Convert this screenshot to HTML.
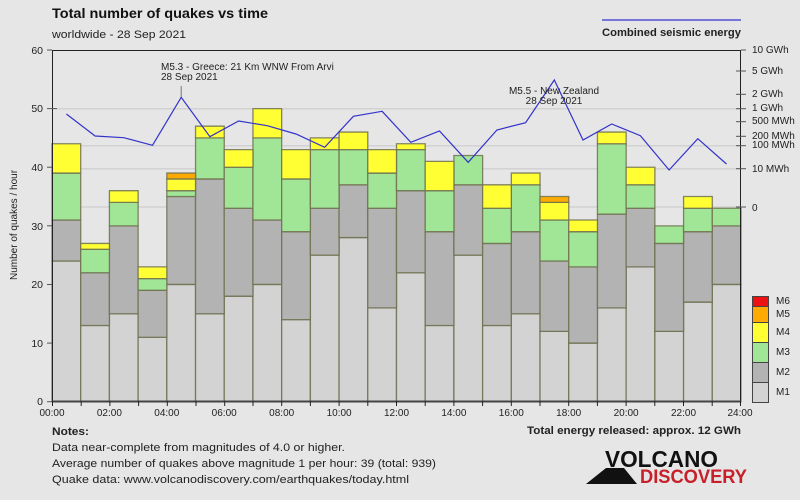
<!DOCTYPE html>
<html><head><meta charset="utf-8"><style>
html,body{margin:0;padding:0;background:#e6e6e6;}
svg{display:block;font-family:"Liberation Sans",sans-serif;}
</style></head><body>
<svg width="800" height="500" viewBox="0 0 800 500" xmlns="http://www.w3.org/2000/svg">
<rect width="800" height="500" fill="#e6e6e6"/>
<g stroke="#d2d2d2" stroke-width="1.5">
<line x1="52" y1="108.7" x2="741" y2="108.7"/>
<line x1="52" y1="145.7" x2="741" y2="145.7"/>
<line x1="52" y1="168.7" x2="741" y2="168.7"/>
<line x1="52" y1="207" x2="741" y2="207"/>
</g>
<g transform="translate(52,401.7) scale(28.708,-5.862)" stroke="#707050" stroke-opacity="0.85" stroke-width="1.3">
<g fill="#d3d3d3">
<rect vector-effect="non-scaling-stroke" x="0" y="0" width="1" height="24"/>
<rect vector-effect="non-scaling-stroke" x="1" y="0" width="1" height="13"/>
<rect vector-effect="non-scaling-stroke" x="2" y="0" width="1" height="15"/>
<rect vector-effect="non-scaling-stroke" x="3" y="0" width="1" height="11"/>
<rect vector-effect="non-scaling-stroke" x="4" y="0" width="1" height="20"/>
<rect vector-effect="non-scaling-stroke" x="5" y="0" width="1" height="15"/>
<rect vector-effect="non-scaling-stroke" x="6" y="0" width="1" height="18"/>
<rect vector-effect="non-scaling-stroke" x="7" y="0" width="1" height="20"/>
<rect vector-effect="non-scaling-stroke" x="8" y="0" width="1" height="14"/>
<rect vector-effect="non-scaling-stroke" x="9" y="0" width="1" height="25"/>
<rect vector-effect="non-scaling-stroke" x="10" y="0" width="1" height="28"/>
<rect vector-effect="non-scaling-stroke" x="11" y="0" width="1" height="16"/>
<rect vector-effect="non-scaling-stroke" x="12" y="0" width="1" height="22"/>
<rect vector-effect="non-scaling-stroke" x="13" y="0" width="1" height="13"/>
<rect vector-effect="non-scaling-stroke" x="14" y="0" width="1" height="25"/>
<rect vector-effect="non-scaling-stroke" x="15" y="0" width="1" height="13"/>
<rect vector-effect="non-scaling-stroke" x="16" y="0" width="1" height="15"/>
<rect vector-effect="non-scaling-stroke" x="17" y="0" width="1" height="12"/>
<rect vector-effect="non-scaling-stroke" x="18" y="0" width="1" height="10"/>
<rect vector-effect="non-scaling-stroke" x="19" y="0" width="1" height="16"/>
<rect vector-effect="non-scaling-stroke" x="20" y="0" width="1" height="23"/>
<rect vector-effect="non-scaling-stroke" x="21" y="0" width="1" height="12"/>
<rect vector-effect="non-scaling-stroke" x="22" y="0" width="1" height="17"/>
<rect vector-effect="non-scaling-stroke" x="23" y="0" width="1" height="20"/>
</g>
<g fill="#b3b3b3">
<rect vector-effect="non-scaling-stroke" x="0" y="24" width="1" height="7"/>
<rect vector-effect="non-scaling-stroke" x="1" y="13" width="1" height="9"/>
<rect vector-effect="non-scaling-stroke" x="2" y="15" width="1" height="15"/>
<rect vector-effect="non-scaling-stroke" x="3" y="11" width="1" height="8"/>
<rect vector-effect="non-scaling-stroke" x="4" y="20" width="1" height="15"/>
<rect vector-effect="non-scaling-stroke" x="5" y="15" width="1" height="23"/>
<rect vector-effect="non-scaling-stroke" x="6" y="18" width="1" height="15"/>
<rect vector-effect="non-scaling-stroke" x="7" y="20" width="1" height="11"/>
<rect vector-effect="non-scaling-stroke" x="8" y="14" width="1" height="15"/>
<rect vector-effect="non-scaling-stroke" x="9" y="25" width="1" height="8"/>
<rect vector-effect="non-scaling-stroke" x="10" y="28" width="1" height="9"/>
<rect vector-effect="non-scaling-stroke" x="11" y="16" width="1" height="17"/>
<rect vector-effect="non-scaling-stroke" x="12" y="22" width="1" height="14"/>
<rect vector-effect="non-scaling-stroke" x="13" y="13" width="1" height="16"/>
<rect vector-effect="non-scaling-stroke" x="14" y="25" width="1" height="12"/>
<rect vector-effect="non-scaling-stroke" x="15" y="13" width="1" height="14"/>
<rect vector-effect="non-scaling-stroke" x="16" y="15" width="1" height="14"/>
<rect vector-effect="non-scaling-stroke" x="17" y="12" width="1" height="12"/>
<rect vector-effect="non-scaling-stroke" x="18" y="10" width="1" height="13"/>
<rect vector-effect="non-scaling-stroke" x="19" y="16" width="1" height="16"/>
<rect vector-effect="non-scaling-stroke" x="20" y="23" width="1" height="10"/>
<rect vector-effect="non-scaling-stroke" x="21" y="12" width="1" height="15"/>
<rect vector-effect="non-scaling-stroke" x="22" y="17" width="1" height="12"/>
<rect vector-effect="non-scaling-stroke" x="23" y="20" width="1" height="10"/>
</g>
<g fill="#a0e696">
<rect vector-effect="non-scaling-stroke" x="0" y="31" width="1" height="8"/>
<rect vector-effect="non-scaling-stroke" x="1" y="22" width="1" height="4"/>
<rect vector-effect="non-scaling-stroke" x="2" y="30" width="1" height="4"/>
<rect vector-effect="non-scaling-stroke" x="3" y="19" width="1" height="2"/>
<rect vector-effect="non-scaling-stroke" x="4" y="35" width="1" height="1"/>
<rect vector-effect="non-scaling-stroke" x="5" y="38" width="1" height="7"/>
<rect vector-effect="non-scaling-stroke" x="6" y="33" width="1" height="7"/>
<rect vector-effect="non-scaling-stroke" x="7" y="31" width="1" height="14"/>
<rect vector-effect="non-scaling-stroke" x="8" y="29" width="1" height="9"/>
<rect vector-effect="non-scaling-stroke" x="9" y="33" width="1" height="10"/>
<rect vector-effect="non-scaling-stroke" x="10" y="37" width="1" height="6"/>
<rect vector-effect="non-scaling-stroke" x="11" y="33" width="1" height="6"/>
<rect vector-effect="non-scaling-stroke" x="12" y="36" width="1" height="7"/>
<rect vector-effect="non-scaling-stroke" x="13" y="29" width="1" height="7"/>
<rect vector-effect="non-scaling-stroke" x="14" y="37" width="1" height="5"/>
<rect vector-effect="non-scaling-stroke" x="15" y="27" width="1" height="6"/>
<rect vector-effect="non-scaling-stroke" x="16" y="29" width="1" height="8"/>
<rect vector-effect="non-scaling-stroke" x="17" y="24" width="1" height="7"/>
<rect vector-effect="non-scaling-stroke" x="18" y="23" width="1" height="6"/>
<rect vector-effect="non-scaling-stroke" x="19" y="32" width="1" height="12"/>
<rect vector-effect="non-scaling-stroke" x="20" y="33" width="1" height="4"/>
<rect vector-effect="non-scaling-stroke" x="21" y="27" width="1" height="3"/>
<rect vector-effect="non-scaling-stroke" x="22" y="29" width="1" height="4"/>
<rect vector-effect="non-scaling-stroke" x="23" y="30" width="1" height="3"/>
</g>
<g fill="#ffff33">
<rect vector-effect="non-scaling-stroke" x="0" y="39" width="1" height="5"/>
<rect vector-effect="non-scaling-stroke" x="1" y="26" width="1" height="1"/>
<rect vector-effect="non-scaling-stroke" x="2" y="34" width="1" height="2"/>
<rect vector-effect="non-scaling-stroke" x="3" y="21" width="1" height="2"/>
<rect vector-effect="non-scaling-stroke" x="4" y="36" width="1" height="2"/>
<rect vector-effect="non-scaling-stroke" x="5" y="45" width="1" height="2"/>
<rect vector-effect="non-scaling-stroke" x="6" y="40" width="1" height="3"/>
<rect vector-effect="non-scaling-stroke" x="7" y="45" width="1" height="5"/>
<rect vector-effect="non-scaling-stroke" x="8" y="38" width="1" height="5"/>
<rect vector-effect="non-scaling-stroke" x="9" y="43" width="1" height="2"/>
<rect vector-effect="non-scaling-stroke" x="10" y="43" width="1" height="3"/>
<rect vector-effect="non-scaling-stroke" x="11" y="39" width="1" height="4"/>
<rect vector-effect="non-scaling-stroke" x="12" y="43" width="1" height="1"/>
<rect vector-effect="non-scaling-stroke" x="13" y="36" width="1" height="5"/>
<rect vector-effect="non-scaling-stroke" x="15" y="33" width="1" height="4"/>
<rect vector-effect="non-scaling-stroke" x="16" y="37" width="1" height="2"/>
<rect vector-effect="non-scaling-stroke" x="17" y="31" width="1" height="3"/>
<rect vector-effect="non-scaling-stroke" x="18" y="29" width="1" height="2"/>
<rect vector-effect="non-scaling-stroke" x="19" y="44" width="1" height="2"/>
<rect vector-effect="non-scaling-stroke" x="20" y="37" width="1" height="3"/>
<rect vector-effect="non-scaling-stroke" x="22" y="33" width="1" height="2"/>
</g>
<g fill="#ffaa00">
<rect vector-effect="non-scaling-stroke" x="4" y="38" width="1" height="1"/>
<rect vector-effect="non-scaling-stroke" x="17" y="34" width="1" height="1"/>
</g>
</g>
<g stroke="#222" stroke-width="1">
<line x1="52.5" y1="50" x2="52.5" y2="406"/>
<line x1="740.5" y1="50" x2="740.5" y2="406"/>
<line x1="52" y1="401.5" x2="741" y2="401.5" stroke="#444" stroke-width="2"/>
<line x1="52" y1="50.5" x2="741" y2="50.5"/>
</g>
<g stroke="#555" stroke-width="1">
<line x1="47" y1="401.7" x2="52" y2="401.7"/><line x1="47" y1="343.1" x2="52" y2="343.1"/>
<line x1="47" y1="284.5" x2="52" y2="284.5"/><line x1="47" y1="225.8" x2="52" y2="225.8"/>
<line x1="47" y1="167.2" x2="52" y2="167.2"/><line x1="47" y1="108.6" x2="57" y2="108.6"/>
<line x1="47" y1="50" x2="52" y2="50"/>
<line x1="741" y1="50" x2="746" y2="50"/><line x1="736" y1="71" x2="746" y2="71"/>
<line x1="736" y1="94.3" x2="746" y2="94.3"/><line x1="736" y1="108.7" x2="746" y2="108.7"/>
<line x1="736" y1="121.7" x2="746" y2="121.7"/><line x1="736" y1="136.3" x2="746" y2="136.3"/>
<line x1="736" y1="145.7" x2="746" y2="145.7"/><line x1="736" y1="168.7" x2="746" y2="168.7"/>
<line x1="736" y1="207" x2="746" y2="207"/>
</g>
<g stroke="#222" stroke-width="1">
<line x1="52.5" y1="401" x2="52.5" y2="406"/><line x1="81.2" y1="401" x2="81.2" y2="406"/><line x1="109.9" y1="401" x2="109.9" y2="406"/><line x1="138.6" y1="401" x2="138.6" y2="406"/><line x1="167.3" y1="401" x2="167.3" y2="406"/><line x1="196" y1="401" x2="196" y2="406"/><line x1="224.7" y1="401" x2="224.7" y2="406"/><line x1="253" y1="401" x2="253" y2="406"/><line x1="281.7" y1="401" x2="281.7" y2="406"/><line x1="310.4" y1="401" x2="310.4" y2="406"/><line x1="339.1" y1="401" x2="339.1" y2="406"/><line x1="367.8" y1="401" x2="367.8" y2="406"/><line x1="396.5" y1="401" x2="396.5" y2="406"/><line x1="425.2" y1="401" x2="425.2" y2="406"/><line x1="453.9" y1="401" x2="453.9" y2="406"/><line x1="482.6" y1="401" x2="482.6" y2="406"/><line x1="511.3" y1="401" x2="511.3" y2="406"/><line x1="540" y1="401" x2="540" y2="406"/><line x1="568.7" y1="401" x2="568.7" y2="406"/><line x1="597.4" y1="401" x2="597.4" y2="406"/><line x1="626.1" y1="401" x2="626.1" y2="406"/><line x1="654.8" y1="401" x2="654.8" y2="406"/><line x1="683.5" y1="401" x2="683.5" y2="406"/><line x1="712.2" y1="401" x2="712.2" y2="406"/><line x1="740.5" y1="401" x2="740.5" y2="406"/>
</g>
<polyline fill="none" stroke="#3333cc" stroke-width="1.2" points="66.4,114 95.1,136 123.8,137.7 152.5,145.3 181.2,97.3 209.9,136.7 238.6,121 267.3,125.7 296,134 324.7,147.3 353.4,116.3 382.1,111.3 410.8,142.3 439.5,131 468.2,162.3 496.9,130 525.6,122.7 554.3,80 583,140 611.7,124 640.4,135.7 669.1,170 697.8,138.7 726.5,164"/>
<line x1="181.2" y1="86" x2="181.2" y2="97" stroke="#777"/>
<g font-size="10" fill="#222">
<text x="161" y="70">M5.3 - Greece: 21 Km WNW From Arvi</text>
<text x="161" y="80">28 Sep 2021</text>
<text x="554" y="94" text-anchor="middle">M5.5 - New Zealand</text>
<text x="554" y="104" text-anchor="middle">28 Sep 2021</text>
</g>
<g font-size="10.5" fill="#222" text-anchor="end">
<text x="43" y="405">0</text><text x="43" y="347">10</text><text x="43" y="288">20</text>
<text x="43" y="230">30</text><text x="43" y="171">40</text><text x="43" y="112">50</text><text x="43" y="54">60</text>
</g>
<text transform="translate(17,225) rotate(-90)" font-size="10" fill="#222" text-anchor="middle">Number of quakes / hour</text>
<g font-size="10" fill="#222">
<text x="752" y="53">10 GWh</text><text x="752" y="74">5 GWh</text><text x="752" y="97">2 GWh</text>
<text x="752" y="111">1 GWh</text><text x="752" y="124">500 MWh</text><text x="752" y="139">200 MWh</text>
<text x="752" y="148">100 MWh</text><text x="752" y="172">10 MWh</text><text x="752" y="211">0</text>
</g>
<g font-size="10" fill="#222" text-anchor="middle">
<text x="52" y="416">00:00</text><text x="109.4" y="416">02:00</text><text x="166.8" y="416">04:00</text>
<text x="224.2" y="416">06:00</text><text x="281.7" y="416">08:00</text><text x="339.1" y="416">10:00</text>
<text x="396.5" y="416">12:00</text><text x="453.9" y="416">14:00</text><text x="511.3" y="416">16:00</text>
<text x="568.7" y="416">18:00</text><text x="626.1" y="416">20:00</text><text x="683.5" y="416">22:00</text>
<text x="740" y="416">24:00</text>
</g>
<g stroke="#444" stroke-width="1">
<rect x="752.5" y="296.5" width="16" height="10" fill="#ee1111"/>
<rect x="752.5" y="306.5" width="16" height="16" fill="#ffaa00"/>
<rect x="752.5" y="322.5" width="16" height="20" fill="#ffff33"/>
<rect x="752.5" y="342.5" width="16" height="20" fill="#a0e696"/>
<rect x="752.5" y="362.5" width="16" height="20" fill="#b3b3b3"/>
<rect x="752.5" y="382.5" width="16" height="20" fill="#d3d3d3"/>
</g>
<g font-size="10" fill="#222">
<text x="776" y="304">M6</text><text x="776" y="317">M5</text><text x="776" y="335">M4</text>
<text x="776" y="355">M3</text><text x="776" y="375">M2</text><text x="776" y="395">M1</text>
</g>
<text x="52" y="18" font-size="14" font-weight="bold" fill="#111" textLength="216" lengthAdjust="spacingAndGlyphs">Total number of quakes vs time</text>
<text x="52" y="38" font-size="11" fill="#222" textLength="134" lengthAdjust="spacingAndGlyphs">worldwide - 28 Sep 2021</text>
<line x1="602" y1="20" x2="741" y2="20" stroke="#3333cc" stroke-width="1.2"/>
<text x="741" y="36" font-size="11" font-weight="bold" fill="#222" text-anchor="end" textLength="139" lengthAdjust="spacingAndGlyphs">Combined seismic energy</text>
<text x="52" y="435" font-size="11" font-weight="bold" fill="#222" textLength="37" lengthAdjust="spacingAndGlyphs">Notes:</text>
<g font-size="11" fill="#222">
<text x="52" y="451" textLength="293" lengthAdjust="spacingAndGlyphs">Data near-complete from magnitudes of 4.0 or higher.</text>
<text x="52" y="467" textLength="384" lengthAdjust="spacingAndGlyphs">Average number of quakes above magnitude 1 per hour: 39 (total: 939)</text>
<text x="52" y="483" textLength="357" lengthAdjust="spacingAndGlyphs">Quake data: www.volcanodiscovery.com/earthquakes/today.html</text>
</g>
<text x="741" y="434" font-size="11" font-weight="bold" fill="#222" text-anchor="end" textLength="214" lengthAdjust="spacingAndGlyphs">Total energy released: approx. 12 GWh</text>
<text x="605" y="467" font-size="23" font-weight="bold" fill="#111" textLength="113" lengthAdjust="spacingAndGlyphs">VOLCANO</text>
<polygon points="586,484 606,468 624,468 637,484" fill="#111"/>
<text x="640" y="483" font-size="19.5" font-weight="bold" fill="#c8202a" textLength="107" lengthAdjust="spacingAndGlyphs">DISCOVERY</text>
</svg>
</body></html>
